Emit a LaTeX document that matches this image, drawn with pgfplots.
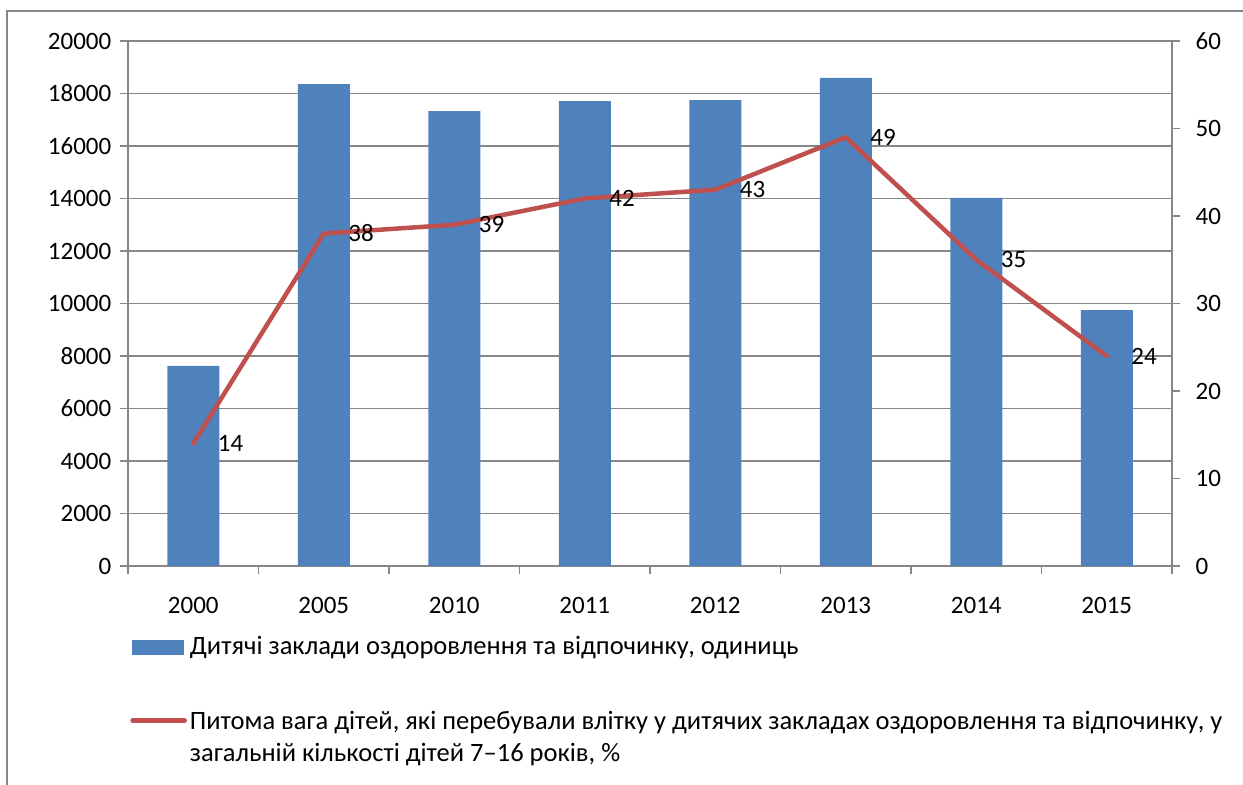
\documentclass[border=0pt]{standalone}
\usepackage{fontspec}
\setmainfont{Carlito}
\usepackage{pgfplots}
\pgfplotsset{compat=1.18}
\definecolor{barblue}{HTML}{4F81BD}
\definecolor{linered}{HTML}{C0504D}
\definecolor{axisgray}{HTML}{878787}
\newcommand\legone{Дитячі заклади оздоровлення та відпочинку, одиниць}
\newcommand\legtwo{\begin{tabular}[t]{@{}l@{}}Питома вага дітей, які перебували влітку у дитячих закладах оздоровлення та відпочинку, у\\загальній кількості дітей 7–16 років, \%\end{tabular}}
\begin{document}
\fontsize{12.5}{16}\selectfont
\begin{tikzpicture}
\useasboundingbox (0,0) rectangle (621.5pt,392.5pt);
\clip (0,0) rectangle (621.5pt,392.5pt);
\draw[axisgray, line width=0.75pt] (3.5pt,-20pt) rectangle (640pt,387pt);
\begin{axis}[
  at={(64pt,109.5pt)}, anchor=south west,
  scale only axis, width=522pt, height=262.5pt,
  xmin=-0.5, xmax=7.5, ymin=0, ymax=20000,
  axis x line*=bottom, axis y line*=left,
  axis line style={axisgray, line width=0.75pt},
  xtick={-0.5,0.5,...,7.5}, xticklabels={},
  extra x ticks={0,1,2,3,4,5,6,7},
  extra x tick labels={2000,2005,2010,2011,2012,2013,2014,2015},
  extra x tick style={major tick length=0pt, grid=none,
    xticklabel style={yshift=-11.5pt}},
  ytick={0,2000,...,20000},
  tick align=outside, major tick length=4pt,
  tick style={axisgray, line width=0.75pt},
  ymajorgrids, grid style={axisgray, line width=0.75pt},
  scaled y ticks=false,
  /pgf/number format/assume math mode=true,
  yticklabel style={/pgf/number format/set thousands separator={}},
  every tick label/.append style={font=\fontsize{12.5}{15}\selectfont, text=black},
]
\addplot[ybar, bar width=26pt, fill=barblue, draw=none] coordinates {
  (0,7620) (1,18360) (2,17330) (3,17710) (4,17750) (5,18590) (6,14020) (7,9750)
};
\end{axis}
\begin{axis}[
  at={(64pt,109.5pt)}, anchor=south west,
  scale only axis, width=522pt, height=262.5pt,
  xmin=-0.5, xmax=7.5, ymin=0, ymax=60,
  axis x line=none, axis y line*=right,
  axis line style={axisgray, line width=0.75pt},
  ytick={0,10,...,60},
  tick align=outside, major tick length=4pt,
  tick style={axisgray, line width=0.75pt},
  /pgf/number format/assume math mode=true,
  every tick label/.append style={font=\fontsize{12.5}{15}\selectfont, text=black},
  yticklabel style={xshift=3.5pt},
  clip=false,
  legend style={at={(axis description cs:0,0)}, anchor=north west,
    xshift=1pt, yshift=-33.5pt, draw=none, fill=none, inner sep=0pt,
    row sep=21.5pt, font=\fontsize{13.25}{16}\selectfont,
    nodes={inner sep=1.5pt}},
  legend cell align=left,
]
\addlegendimage{legend image code/.code={\fill[barblue] (0pt,-3.6pt) rectangle (25.5pt,3.6pt);}}
\addlegendentry{\legone}
\addplot[linered, line width=2.25pt, line cap=round, line join=round,
  nodes near coords,
  nodes near coords style={anchor=west, xshift=7pt, text=black, font=\fontsize{12.5}{15}\selectfont},
  legend image code/.code={\draw[linered, line width=2.25pt, line cap=round] (0pt,0pt) -- (26pt,0pt);}]
  coordinates {(0,14) (1,38) (2,39) (3,42) (4,43) (5,49) (6,35) (7,24)};
\addlegendentry{\legtwo}
\end{axis}
\end{tikzpicture}
\end{document}
